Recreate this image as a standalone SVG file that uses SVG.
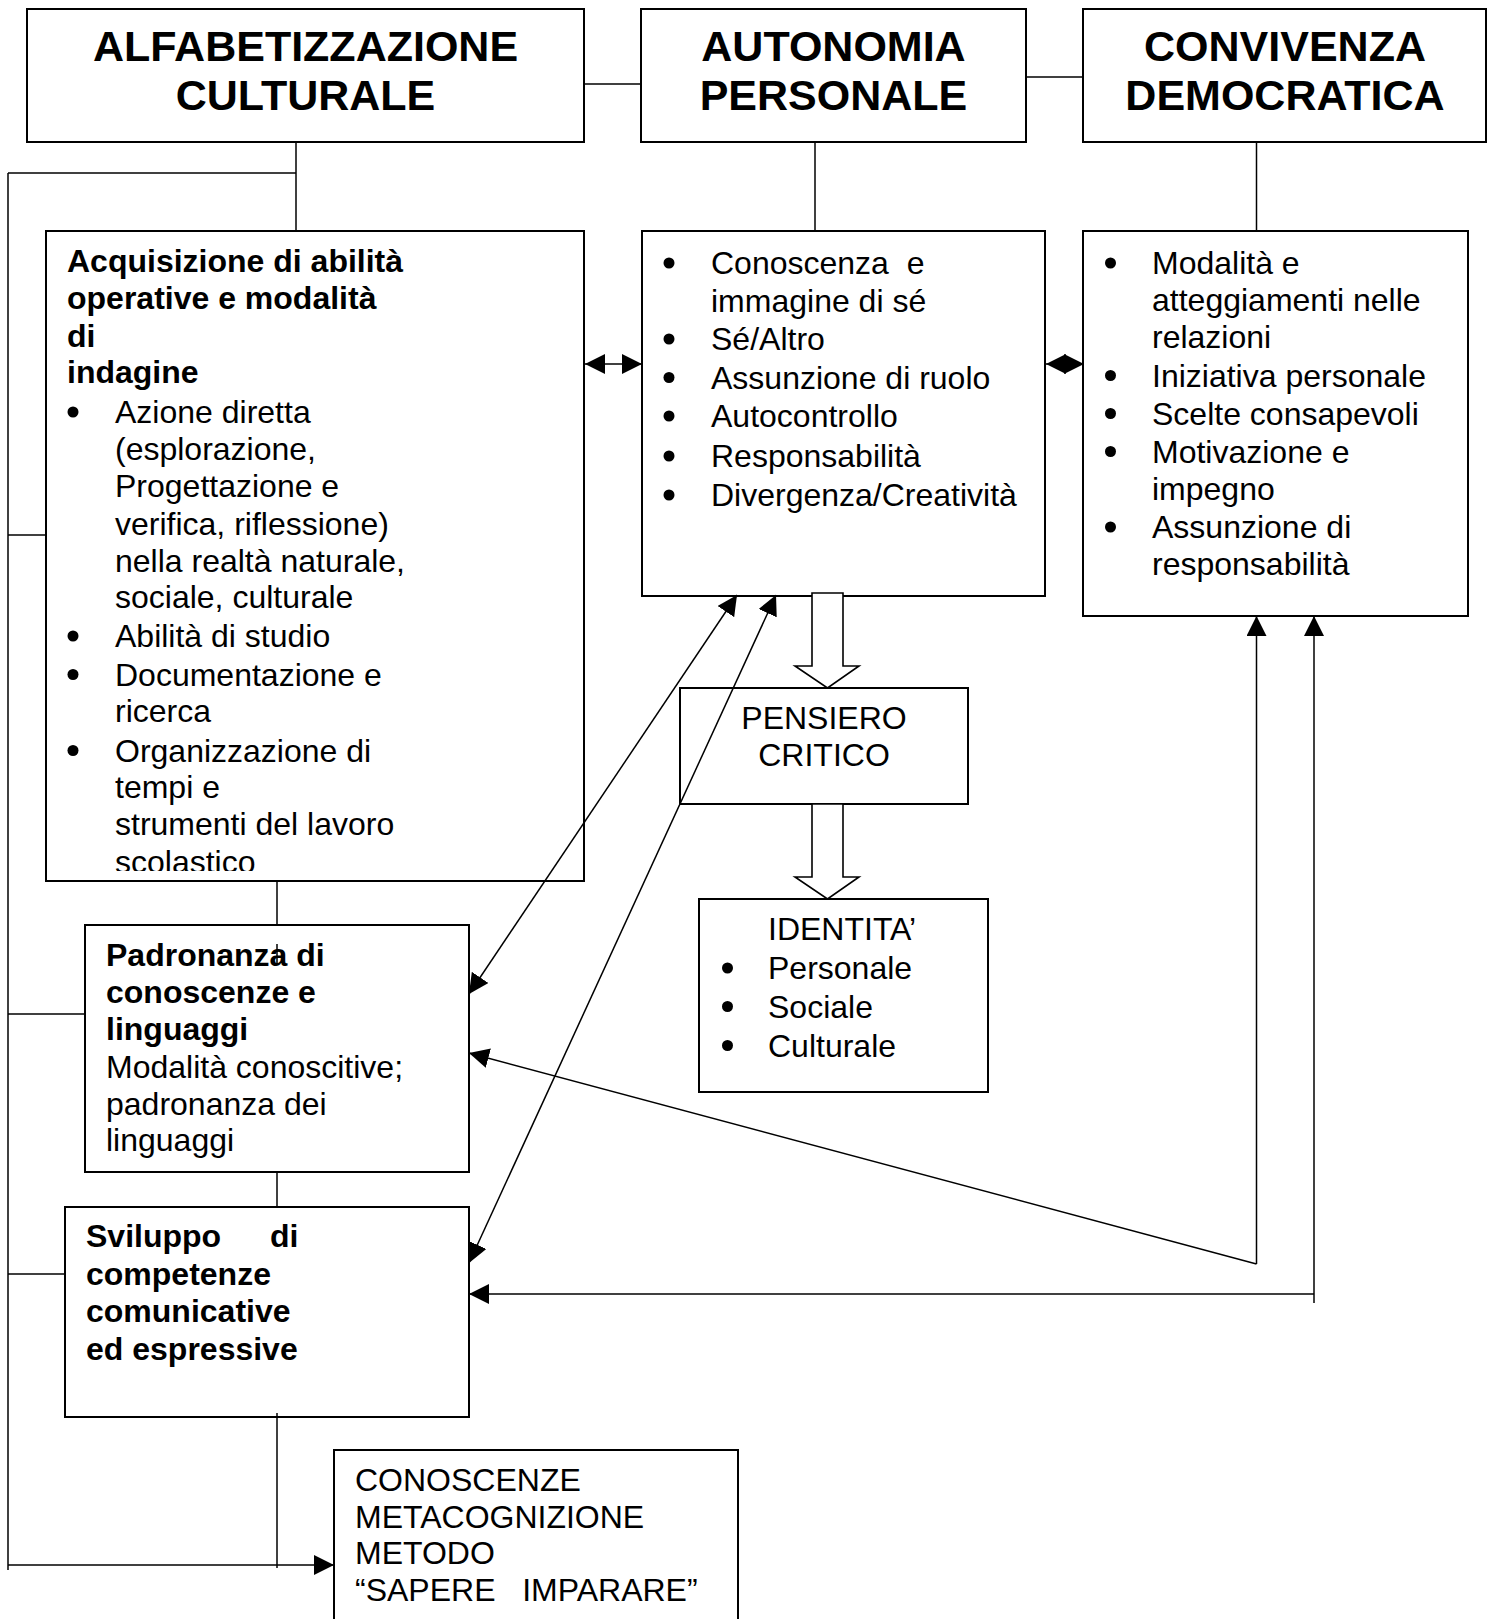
<svg xmlns="http://www.w3.org/2000/svg" width="1494" height="1619" viewBox="0 0 1494 1619">
<style>
text { font-family: "Liberation Sans", Arial, Helvetica, sans-serif; fill: #000; }
.h { font-size: 43px; font-weight: bold; text-anchor: middle; }
.b { font-size: 32px; font-weight: bold; }
.t { font-size: 32px; }
.c { text-anchor: middle; }
.box { fill: #fff; stroke: #000; stroke-width: 2; }
.ln { fill: none; stroke: #000; stroke-width: 1.5; }
.arr { marker-end: url(#ah); }
.dbl { marker-start: url(#ah); marker-end: url(#ah); }
.blk { fill: #fff; stroke: #000; stroke-width: 1.6; stroke-linejoin: miter; }
.dot { fill: #000; }
</style>
<defs>
<marker id="ah" viewBox="0 0 20 20" markerWidth="20" markerHeight="20" refX="20" refY="10" orient="auto-start-reverse" markerUnits="userSpaceOnUse">
<path d="M0,0 L20,10 L0,20 z" fill="#000"/>
</marker>
<clipPath id="clipAcq"><rect x="46" y="231" width="538" height="640"/></clipPath>
</defs>
<rect width="1494" height="1619" fill="#fff"/>

<g id="alfabetizzazione">
<rect class="box" x="27" y="9" width="557" height="133"/>
<text class="h" x="305.5" y="61">ALFABETIZZAZIONE</text>
<text class="h" x="305.5" y="110">CULTURALE</text>
</g>

<g id="autonomia">
<rect class="box" x="641" y="9" width="385" height="133"/>
<text class="h" x="833.5" y="61">AUTONOMIA</text>
<text class="h" x="833.5" y="110">PERSONALE</text>
</g>

<g id="convivenza">
<rect class="box" x="1083" y="9" width="403" height="133"/>
<text class="h" x="1285" y="61">CONVIVENZA</text>
<text class="h" x="1285" y="110">DEMOCRATICA</text>
</g>

<g id="acquisizione">
<rect class="box" x="46" y="231" width="538" height="650"/>
<g clip-path="url(#clipAcq)">
<text class="b" x="67" y="272">Acquisizione di abilità</text>
<text class="b" x="67" y="309">operative e modalità</text>
<text class="b" x="67" y="346.5">di</text>
<text class="b" x="67" y="383">indagine</text>
<circle class="dot" cx="73" cy="412" r="5.5"/>
<text class="t" x="115" y="423">Azione diretta</text>
<text class="t" x="115" y="460">(esplorazione,</text>
<text class="t" x="115" y="497">Progettazione e</text>
<text class="t" x="115" y="534.5">verifica, riflessione)</text>
<text class="t" x="115" y="571.5">nella realtà naturale,</text>
<text class="t" x="115" y="608">sociale, culturale</text>
<circle class="dot" cx="73" cy="636" r="5.5"/>
<text class="t" x="115" y="647">Abilità di studio</text>
<circle class="dot" cx="73" cy="674.5" r="5.5"/>
<text class="t" x="115" y="685.5">Documentazione e</text>
<text class="t" x="115" y="722">ricerca</text>
<circle class="dot" cx="73" cy="750.5" r="5.5"/>
<text class="t" x="115" y="761.5">Organizzazione di</text>
<text class="t" x="115" y="798">tempi e</text>
<text class="t" x="115" y="835">strumenti del lavoro</text>
<text class="t" x="115" y="873">scolastico</text>
</g>
</g>

<g id="autonomia-contenuti">
<rect class="box" x="642" y="231" width="403" height="365"/>
<circle class="dot" cx="669" cy="263" r="5.5"/>
<text class="t" x="711" y="274" xml:space="preserve">Conoscenza  e</text>
<text class="t" x="711" y="311.5">immagine di sé</text>
<circle class="dot" cx="669" cy="339" r="5.5"/>
<text class="t" x="711" y="350">Sé/Altro</text>
<circle class="dot" cx="669" cy="377.5" r="5.5"/>
<text class="t" x="711" y="388.5">Assunzione di ruolo</text>
<circle class="dot" cx="669" cy="416" r="5.5"/>
<text class="t" x="711" y="427">Autocontrollo</text>
<circle class="dot" cx="669" cy="456" r="5.5"/>
<text class="t" x="711" y="467">Responsabilità</text>
<circle class="dot" cx="669" cy="495" r="5.5"/>
<text class="t" x="711" y="506">Divergenza/Creatività</text>
</g>

<g id="convivenza-contenuti">
<rect class="box" x="1083" y="231" width="385" height="385"/>
<circle class="dot" cx="1110.5" cy="263" r="5.5"/>
<text class="t" x="1152" y="274">Modalità e</text>
<text class="t" x="1152" y="310.5">atteggiamenti nelle</text>
<text class="t" x="1152" y="347.5">relazioni</text>
<circle class="dot" cx="1110.5" cy="375.5" r="5.5"/>
<text class="t" x="1152" y="386.5">Iniziativa personale</text>
<circle class="dot" cx="1110.5" cy="413.5" r="5.5"/>
<text class="t" x="1152" y="424.5">Scelte consapevoli</text>
<circle class="dot" cx="1110.5" cy="451.5" r="5.5"/>
<text class="t" x="1152" y="462.5">Motivazione e</text>
<text class="t" x="1152" y="499.5">impegno</text>
<circle class="dot" cx="1110.5" cy="527" r="5.5"/>
<text class="t" x="1152" y="538">Assunzione di</text>
<text class="t" x="1152" y="575">responsabilità</text>
</g>

<g id="pensiero-critico">
<rect class="box" x="680" y="688" width="288" height="116"/>
<text class="t c" x="824" y="729">PENSIERO</text>
<text class="t c" x="824" y="766">CRITICO</text>
</g>

<g id="identita">
<rect class="box" x="699" y="899" width="289" height="193"/>
<text class="t" x="768" y="940">IDENTITA’</text>
<circle class="dot" cx="727.5" cy="968" r="5.5"/>
<text class="t" x="768" y="979">Personale</text>
<circle class="dot" cx="727.5" cy="1006.5" r="5.5"/>
<text class="t" x="768" y="1017.5">Sociale</text>
<circle class="dot" cx="727.5" cy="1045.5" r="5.5"/>
<text class="t" x="768" y="1056.5">Culturale</text>
</g>

<g id="padronanza">
<rect class="box" x="85" y="925" width="384" height="247"/>
<text class="b" x="106" y="965.5">Padronanza di</text>
<text class="b" x="106" y="1003">conoscenze e</text>
<text class="b" x="106" y="1040">linguaggi</text>
<text class="t" x="106" y="1078">Modalità conoscitive;</text>
<text class="t" x="106" y="1114.5">padronanza dei</text>
<text class="t" x="106" y="1151">linguaggi</text>
</g>

<g id="sviluppo">
<rect class="box" x="65" y="1207" width="404" height="210"/>
<text class="b" x="86" y="1247">Sviluppo<tspan x="270">di</tspan></text>
<text class="b" x="86" y="1285">competenze</text>
<text class="b" x="86" y="1322">comunicative</text>
<text class="b" x="86" y="1360">ed espressive</text>
</g>

<g id="conoscenze">
<rect class="box" x="334" y="1450" width="404" height="180"/>
<text class="t" x="355" y="1491">CONOSCENZE</text>
<text class="t" x="355" y="1527.5">METACOGNIZIONE</text>
<text class="t" x="355" y="1564">METODO</text>
<text class="t" x="355" y="1601" xml:space="preserve">“SAPERE   IMPARARE”</text>
</g>

<g id="connectors">
<line class="ln" x1="584" y1="84" x2="641" y2="84"/>
<line class="ln" x1="1026" y1="77" x2="1083" y2="77"/>
<line class="ln" x1="296" y1="142" x2="296" y2="231"/>
<line class="ln" x1="8" y1="173" x2="296" y2="173"/>
<line class="ln" x1="8" y1="173" x2="8" y2="1570"/>
<line class="ln" x1="8" y1="535" x2="46" y2="535"/>
<line class="ln" x1="8" y1="1014" x2="85" y2="1014"/>
<line class="ln" x1="8" y1="1274" x2="65" y2="1274"/>
<line class="ln arr" x1="8" y1="1565" x2="334" y2="1565"/>
<line class="ln" x1="815" y1="142" x2="815" y2="231"/>
<line class="ln" x1="1256.5" y1="142" x2="1256.5" y2="231"/>
<line class="ln" x1="277" y1="881" x2="277" y2="925"/>
<line class="ln" x1="277" y1="944" x2="277" y2="963"/>
<line class="ln" x1="277" y1="1172" x2="277" y2="1207"/>
<line class="ln" x1="277" y1="1413" x2="277" y2="1568"/>
<line class="ln dbl" x1="585" y1="364" x2="642" y2="364"/>
<line class="ln dbl" x1="1046" y1="364" x2="1084" y2="364"/>
<line class="ln dbl" x1="737" y1="595" x2="469" y2="994"/>
<line class="ln dbl" x1="776" y1="595" x2="469" y2="1263"/>
<line class="ln arr" x1="1256.5" y1="1264" x2="469" y2="1053"/>
<line class="ln arr" x1="1256.5" y1="1264" x2="1256.5" y2="616"/>
<line class="ln arr" x1="1314" y1="1303" x2="1314" y2="616"/>
<line class="ln arr" x1="1314" y1="1294" x2="469" y2="1294"/>
<polygon class="blk" points="812,593 843,593 843,666 859,666 827.5,688 795,666 812,666"/>
<polygon class="blk" points="812,804 843,804 843,877 859,877 827.5,899 795,877 812,877"/>
</g>
</svg>
